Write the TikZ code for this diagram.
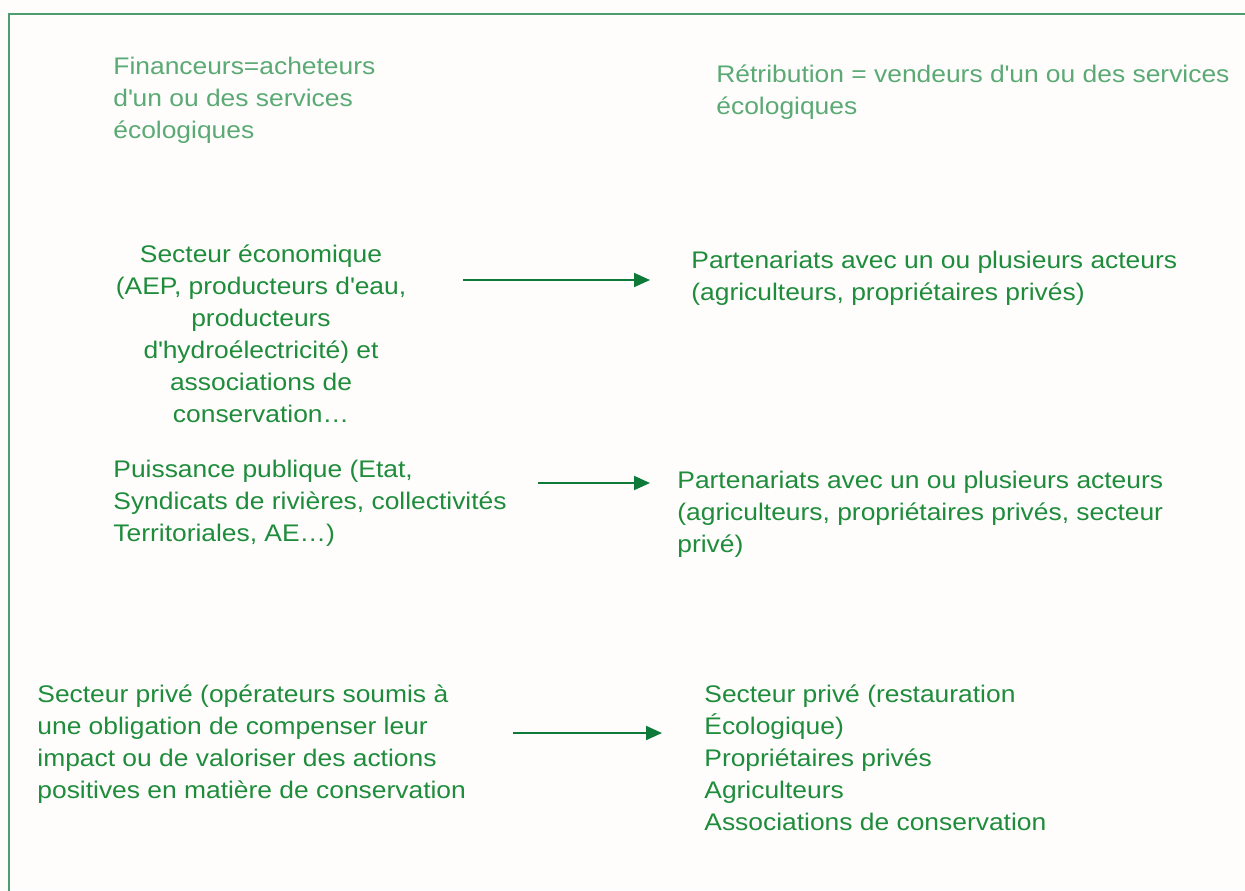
\documentclass[tikz,border=0pt]{standalone}
\usepackage{fontspec}
\setmainfont{Liberation Sans}[FakeStretch=1.1]
\usetikzlibrary{arrows.meta}

\definecolor{headgreen}{HTML}{5BAA75}
\definecolor{textgreen}{HTML}{1F8C3C}
\definecolor{arrowgreen}{HTML}{0E7A3A}
\definecolor{framegreen}{HTML}{4E9D6E}
\definecolor{paper}{HTML}{FEFDFB}

\newcommand{\apos}{\textquotesingle}

\tikzset{
  heading/.style={anchor=base west, align=left, inner sep=0pt, text=headgreen,
    font=\fontsize{12}{16}\selectfont},
  actor/.style={anchor=base west, align=left, inner sep=0pt, text=textgreen,
    font=\fontsize{12}{16}\selectfont},
  flow/.style={draw=arrowgreen, line width=1pt, -{Triangle[length=8pt,width=7pt]}}
}

\begin{document}
\begin{tikzpicture}[x=0.5pt,y=-0.5pt]
     \useasboundingbox (0,0) rectangle (1245,890);
     \fill[paper] (0,0) rectangle (1245,890);
     \clip (0,0) rectangle (1245,890);
     \draw[framegreen, line width=1pt] (9,14) rectangle (1270,910);
     % en-tetes (y = ligne de base de la derniere ligne)
     \node[heading] (buyers) at (113,138) {Financeurs=acheteurs\\d\apos un ou des services\\écologiques};
     \node[heading] (sellers) at (716,114) {Rétribution = vendeurs d\apos un ou des services\\écologiques};
     % financeurs
     \node[actor, anchor=base, align=center] (eco) at (261,422) {Secteur économique\\(AEP, producteurs d\apos eau,\\producteurs\\d\apos hydroélectricité) et\\associations de\\conservation…};
     \node[actor] (pub) at (113,541) {Puissance publique (Etat,\\Syndicats de rivières, collectivités\\Territoriales, AE…)};
     \node[actor] (priv) at (37,798) {Secteur privé (opérateurs soumis à\\une obligation de compenser leur\\impact ou de valoriser des actions\\positives en matière de conservation};
     % retribution
     \node[actor] (part1) at (691,300) {Partenariats avec un ou plusieurs acteurs\\(agriculteurs, propriétaires privés)};
     \node[actor] (part2) at (677,552) {Partenariats avec un ou plusieurs acteurs\\(agriculteurs, propriétaires privés, secteur\\privé)};
     \node[actor] (sellers3) at (704,830) {Secteur privé (restauration\\Écologique)\\Propriétaires privés\\Agriculteurs\\Associations de conservation};
     % fleches
     \coordinate (eco-out) at (463,280);
     \coordinate (part1-in) at (650,280);
     \coordinate (pub-out) at (538,483);
     \coordinate (part2-in) at (650,483);
     \coordinate (priv-out) at (513,733);
     \coordinate (sellers3-in) at (662,733);
     \draw[flow] (eco-out) -- (part1-in);
     \draw[flow] (pub-out) -- (part2-in);
     \draw[flow] (priv-out) -- (sellers3-in);
\end{tikzpicture}
\end{document}
